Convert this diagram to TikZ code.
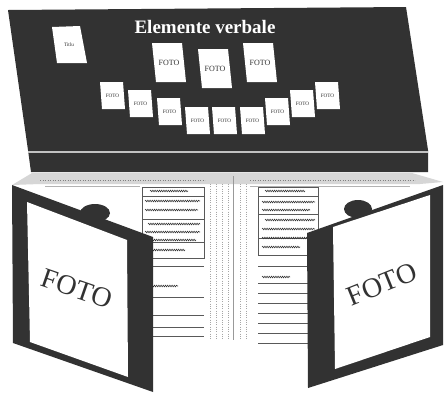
\documentclass[tikz,border=0pt]{standalone}
\usepackage{fontspec}
\setmainfont{Liberation Serif}
\usetikzlibrary{decorations.pathmorphing}

\definecolor{board}{HTML}{323232}
\definecolor{rim}{HTML}{D6D6D6}

\tikzset{
  card/.style={fill=white},
  cardtext/.style={font=\fontsize{5.2}{6}\selectfont, text=board, inner sep=0pt},
  bigtext/.style={font=\fontsize{8}{8}\selectfont, text=board, inner sep=0pt},
  covertext/.style={font=\fontsize{28}{28}\selectfont, text=board, inner sep=0pt},
  pageline/.style={draw=black!65, line width=0.4pt},
  scribble/.style={draw=board, line width=0.55pt, decorate,
    decoration={snake, amplitude=0.8pt, segment length=2.2pt}},
  spine/.style={draw=black!35, line width=0.3pt, dotted},
}

\begin{document}
\begin{tikzpicture}[x=1pt, y=-1pt]
  \useasboundingbox (0,0) rectangle (444,392);

  % Board
  \fill[board] (8,10) -- (406,7) -- (428,150) -- (428,172) -- (31,172) -- (28,150) -- cycle;
  \draw[white!70!board, line width=1.2pt] (28,152) -- (428,152);
  \node[font=\bfseries\fontsize{19}{19}\selectfont, text=white] (title) at (205,27) {Elemente verbale};

  % Cards on the board
  \fill[card] (52,27) -- (80,26) -- (87,63) -- (57,63) -- cycle;
  \node[cardtext] (titlu) at (69,45) {Titlu};
  \foreach \x/\y/\n in {152/43/1, 198/49/2, 243/43/3} {
    \fill[card] (\x,\y) -- ++(30,0) -- ++(4,39) -- ++(-30,0) -- cycle;
    \node[bigtext] (big\n) at (\x+17,\y+20) {FOTO};
  }
  \foreach \x/\y [count=\n] in {100/82, 128/90, 157/98, 185/107, 212/107,
                                240/107, 265/98, 290/90, 315/82} {
    \fill[card] (\x,\y) -- ++(23,0) -- ++(2,27) -- ++(-23,0) -- cycle;
    \node[cardtext] (small\n) at (\x+12.5,\y+14) {FOTO};
  }

  % Pages
  \fill[white] (30,176) rectangle (435,346);
  \fill[rim] (12,185) -- (32,173) -- (412,173) -- (443,182) -- (420,184) -- (40,184) -- cycle;
  \draw[black!50, dotted, line width=0.5pt] (40,180) -- (205,180) (250,180) -- (415,180);
  \draw[black!30, line width=0.3pt] (45,186) -- (140,186) (250,186) -- (410,186);
  \foreach \x in {210,216,222,228,240,246} \draw[spine] (\x,184) -- (\x,340);
  \draw[black!40, line width=0.4pt] (233,176) -- (233,340);

  % Left page
  \draw[pageline] (142,187) rectangle (204,258);
  \foreach \y in {196,219,242,266,297,315,327,336} \draw[pageline] (142,\y) -- (204,\y);
  \foreach \y/\a/\b in {191/150/188, 201/145/200, 210/145/198, 224/148/200,
                        232/145/200, 240/145/196, 250/145/185, 286/145/178}
    \draw[scribble] (\a,\y) -- (\b,\y);

  % Right page
  \draw[pageline] (258,187) rectangle (318,255);
  \foreach \y in {196,214,238,266,283,293,303,313,323,333,343} \draw[pageline] (258,\y) -- (318,\y);
  \foreach \y/\a/\b in {191/265/305, 202/262/315, 210/262/310, 220/265/315,
                        229/262/315, 238/262/318, 247/262/300, 277/262/290}
    \draw[scribble] (\a,\y) -- (\b,\y);

  % Covers
  \fill[board] (95,213) ellipse [x radius=15, y radius=9];
  \fill[board] (358,209) ellipse [x radius=14, y radius=9];
  \fill[board] (12,185) -- (153,237) -- (153,392) -- (13,343) -- cycle;
  \fill[white] (27,202) -- (127,240) -- (128,377) -- (30,342) -- cycle;
  \fill[board] (307,233) -- (443,185) -- (443,345) -- (308,388) -- cycle;
  \fill[white] (333,227) -- (430,195) -- (430,337) -- (335,369) -- cycle;
  \node[covertext, rotate=-19] (fotoL) at (77,289) {FOTO};
  \node[covertext, rotate=22] (fotoR) at (382,284) {FOTO};
\end{tikzpicture}
\end{document}
